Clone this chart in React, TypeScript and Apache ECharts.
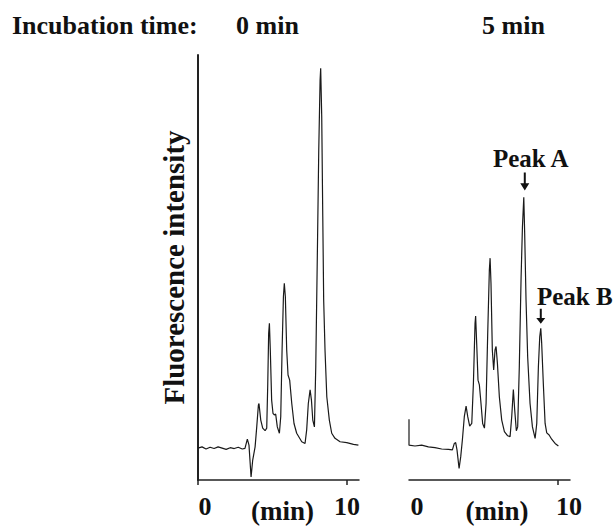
import React, { useEffect, useRef } from "react";
import * as echarts from "echarts";

// ---- data (retention time in min, fluorescence intensity in arbitrary units) ----
const leftTime = [
  0, 0.27, 0.54, 0.81, 1.08, 1.35, 1.62, 1.89, 2.16, 2.43, 2.7, 2.97, 3.15,
  3.31, 3.42, 3.56, 3.67, 3.83, 3.94, 4.05, 4.09, 4.21, 4.34, 4.5, 4.61,
  4.68, 4.74, 4.79, 4.85, 4.94, 5.03, 5.12, 5.21, 5.32, 5.46, 5.55, 5.64,
  5.73, 5.79, 5.86, 5.95, 6.04, 6.15, 6.29, 6.44, 6.62, 6.96, 7.18, 7.29,
  7.4, 7.52, 7.61, 7.7, 7.81, 7.9, 8.01, 8.1, 8.19, 8.23, 8.3, 8.37, 8.43,
  8.52, 8.64, 8.81, 8.97, 9.19, 9.53, 9.98, 10.43, 10.76,
];
const leftIntensity = [
  7.5, 7.8, 7.3, 7.7, 7.4, 7.8, 7.5, 7.2, 7.6, 7.4, 7.7, 7.3, 7.45,
  9.6, 8.2, 0.7, 4.7, 7.8, 12.5, 17.6, 18.0, 14.1, 12.2, 11.6, 12.2,
  22.7, 34.5, 36.9, 30.6, 18.8, 15.7, 15.3, 15.5, 12.5, 11.0, 14.9, 30.6,
  43.1, 46.3, 43.1, 30.6, 24.7, 23.5, 18.0, 13.3, 11.0, 9.0, 8.6, 11.8,
  18.0, 21.2, 18.8, 14.1, 12.5, 26.7, 54.1, 77.6, 94.1, 96.9, 85.5, 62.0, 42.4,
  30.6, 19.6, 14.1, 11.0, 9.8, 9.0, 8.8, 8.4, 8.2,
];

const rightTime = [
  0, 0, 0.4, 0.85, 1.3, 1.74, 2.19, 2.64, 2.91, 3.04, 3.13, 3.22, 3.36,
  3.47, 3.58, 3.71, 3.83, 3.94, 4.07, 4.21, 4.32, 4.43, 4.47, 4.54, 4.63,
  4.72, 4.83, 4.94, 5.06, 5.17, 5.28, 5.39, 5.44, 5.5, 5.59, 5.68, 5.77,
  5.84, 5.93, 6.06, 6.22, 6.4, 6.62, 6.78, 6.89, 7.0, 7.09, 7.2, 7.29,
  7.4, 7.52, 7.61, 7.7, 7.76, 7.85, 7.96, 8.12, 8.28, 8.46, 8.57, 8.68,
  8.77, 8.84, 8.9, 9.01, 9.13, 9.24, 9.4, 9.57, 9.8, 10.02,
];
const rightIntensity = [
  14.3, 8.2, 8.0, 8.2, 7.8, 7.6, 7.3, 7.2, 7.1, 8.6, 8.8, 7.1, 2.7,
  5.5, 9.4, 14.9, 17.4, 14.9, 12.7, 13.3, 22.7, 36.9, 38.6, 32.2, 23.5,
  22.4, 18.0, 13.3, 12.2, 18.0, 34.5, 49.4, 52.2, 46.3, 30.6, 25.9, 30.6,
  31.4, 27.5, 19.6, 14.1, 11.4, 10.4, 10.2, 14.9, 21.3, 16.5, 11.6, 12.5,
  26.7, 47.8, 59.6, 66.5, 58.0, 42.4, 29.0, 18.0, 12.5, 9.8, 13.3, 26.7,
  33.7, 35.7, 32.2, 22.7, 13.3, 11.1, 10.6, 9.6, 8.6, 8.0,
];

const xTickValues = [0, 10];
const panelTitles = ["0 min", "5 min"];
const headerLabel = "Incubation time:";
const yAxisName = "Fluorescence intensity";
const xAxisName = "(min)";

const peakNames = ["Peak A", "Peak B"];
const peakTimes = [7.7, 8.84];
const peakValues = [66.5, 35.7];

const FONT = "'Liberation Serif', 'Times New Roman', serif";
const INK = "#1a1a1a";

const arrowPath =
  "path://M-1,0 L1,0 L1,11 L4.5,11 L0,18 L-4.5,11 L-1,11 Z";

const labelText = {
  fontFamily: FONT,
  fontWeight: "bold" as const,
  fontSize: 26,
  color: "#111",
};

const App: React.FC = () => {
  const ref = useRef<HTMLDivElement>(null);

  useEffect(() => {
    if (!ref.current) return;
    const chart = echarts.init(ref.current, undefined, { renderer: "svg" });

    const leftData = leftTime.map((t, i) => [t, leftIntensity[i]]);
    const rightData = rightTime.map((t, i) => [t, rightIntensity[i]]);

    const xAxisBase = (
      gridIndex: number,
      tickValues: number[],
      zeroPad: number,
      tenPad: number,
      namePad: number
    ) => ({
      type: "value",
      gridIndex,
      min: 0,
      max: 10.8,
      interval: 10,
      axisLine: { show: true, lineStyle: { color: "#222", width: 1.5 } },
      axisTick: {
        show: true,
        inside: false,
        length: 5,
        customValues: tickValues,
        lineStyle: { color: "#222", width: 1.5 },
      },
      axisLabel: {
        show: true,
        customValues: xTickValues,
        formatter: (v: number) => (v === 0 ? `{z|${v}}` : `{t|${v}}`),
        ...labelText,
        margin: 13,
        rich: {
          z: { ...labelText, padding: [0, 0, 0, zeroPad] },
          t: { ...labelText, padding: [0, 0, 0, tenPad] },
        },
      },
      splitLine: { show: false },
      name: xAxisName,
      nameLocation: "middle",
      nameGap: 17,
      nameMoveOverlap: false,
      nameTextStyle: {
        fontFamily: FONT,
        fontWeight: "bold",
        fontSize: 27,
        color: "#111",
        padding: [0, 0, 0, namePad],
      },
    });

    const peakMarks = peakNames.map((name, i) => ({
      name,
      coord: [peakTimes[i], peakValues[i]],
      symbol: arrowPath,
      symbolSize: i === 0 ? [9, 18] : [9, 15],
      symbolOffset: i === 0 ? [1, -16] : [0, -12],
      itemStyle: { color: "#111" },
      label: {
        show: true,
        formatter: name,
        position: "top",
        distance: i === 0 ? 1 : 0,
        offset: i === 0 ? [6, 0] : [34, 0],
        fontFamily: FONT,
        fontWeight: "bold",
        fontSize: 25,
        color: "#111",
      },
    }));

    chart.setOption({
      animation: false,
      backgroundColor: "#fff",
      grid: [
        { left: 198, top: 55, width: 161, height: 425, outerBoundsMode: "none", containLabel: false },
        { left: 409, top: 55, width: 161, height: 425, outerBoundsMode: "none", containLabel: false },
      ],
      xAxis: [xAxisBase(0, [0, 10], 14, 0, 8), xAxisBase(1, [10], 16, 22, 15)],
      yAxis: [
        {
          type: "value",
          gridIndex: 0,
          min: 0,
          max: 100,
          axisLine: { show: true, lineStyle: { color: "#222", width: 2 } },
          axisTick: { show: false },
          axisLabel: { show: false },
          splitLine: { show: false },
          name: yAxisName,
          nameLocation: "middle",
          nameRotate: 90,
          nameGap: 10,
          nameTextStyle: {
            fontFamily: FONT,
            fontWeight: "bold",
            fontSize: 29,
            color: "#111",
          },
        },
        {
          type: "value",
          gridIndex: 1,
          min: 0,
          max: 100,
          show: false,
        },
      ],
      series: [
        {
          type: "line",
          xAxisIndex: 0,
          yAxisIndex: 0,
          data: leftData,
          showSymbol: false,
          lineStyle: { color: INK, width: 1.2 },
        },
        {
          type: "line",
          xAxisIndex: 1,
          yAxisIndex: 1,
          data: rightData,
          showSymbol: false,
          lineStyle: { color: INK, width: 1.2 },
          markPoint: { silent: true, data: peakMarks },
        },
      ],
      graphic: [
        {
          type: "text",
          left: 12,
          top: 12,
          style: {
            text: headerLabel,
            font: `bold 26px ${FONT}`,
            fill: "#111",
          },
        },
        {
          type: "text",
          left: 236,
          top: 12,
          style: {
            text: panelTitles[0],
            font: `bold 26px ${FONT}`,
            fill: "#111",
          },
        },
        {
          type: "text",
          left: 482,
          top: 12,
          style: {
            text: panelTitles[1],
            font: `bold 26px ${FONT}`,
            fill: "#111",
          },
        },
      ],
    });

    return () => chart.dispose();
  }, []);

  return (
    <div
      ref={ref}
      style={{ position: "fixed", left: 0, top: 0, width: 614, height: 527 }}
    />
  );
};

export default App;
